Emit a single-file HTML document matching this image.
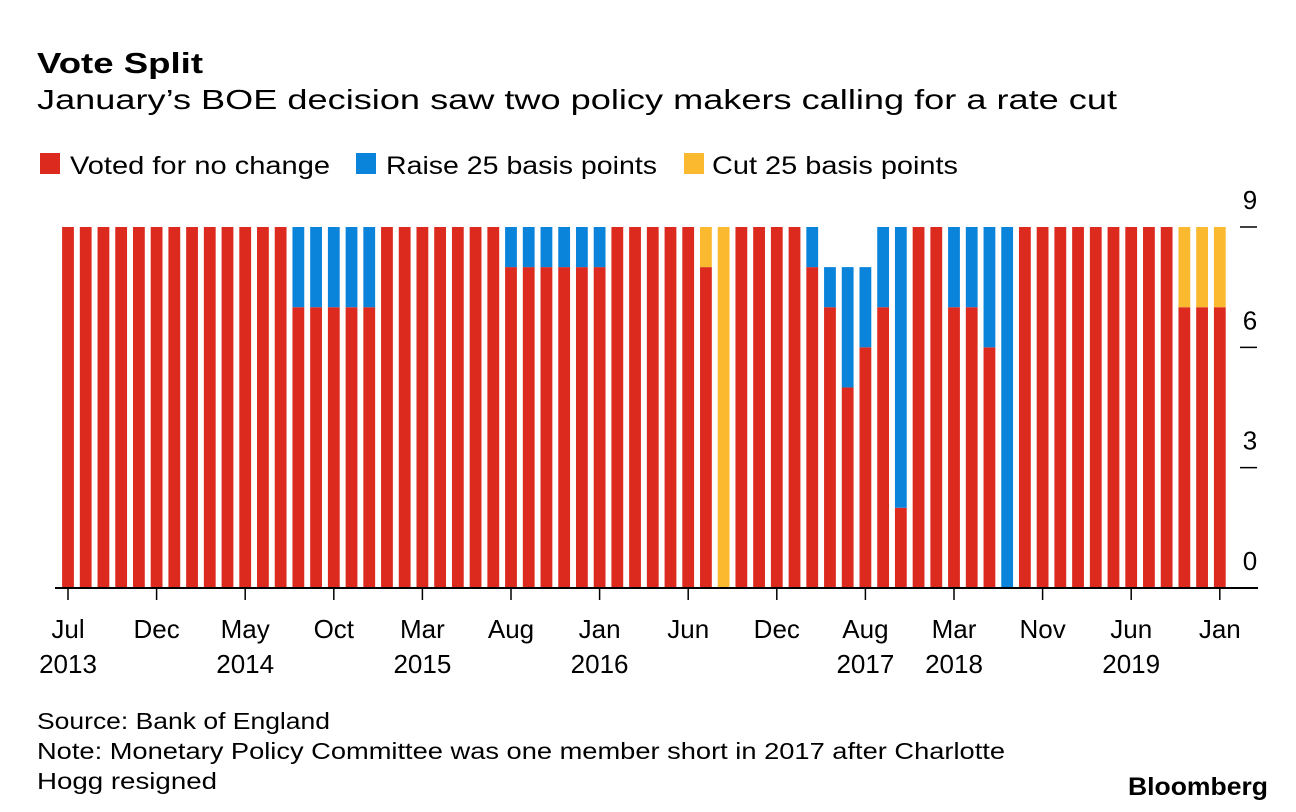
<!DOCTYPE html>
<html><head><meta charset="utf-8"><style>
html,body{margin:0;padding:0;background:#fff;}
svg{display:block;font-family:"Liberation Sans",Arial,sans-serif;}
</style></head><body>
<svg id="chart" width="1296" height="812" viewBox="0 0 1296 812">
<text x="37" y="73" font-size="29" font-weight="bold" fill="#000" textLength="166" lengthAdjust="spacingAndGlyphs">Vote Split</text>
<text x="37" y="109" font-size="28" fill="#000" textLength="1080" lengthAdjust="spacingAndGlyphs">January’s BOE decision saw two policy makers calling for a rate cut</text>
<g>
<rect x="40" y="153" width="20" height="21" fill="#dc2a1f"/>
<text x="70" y="174" font-size="25" textLength="260" lengthAdjust="spacingAndGlyphs">Voted for no change</text>
<rect x="356" y="153" width="20" height="21" fill="#0a84db"/>
<text x="386" y="174" font-size="25" textLength="271" lengthAdjust="spacingAndGlyphs">Raise 25 basis points</text>
<rect x="684" y="153" width="20" height="21" fill="#fbb92f"/>
<text x="712" y="174" font-size="25" textLength="246" lengthAdjust="spacingAndGlyphs">Cut 25 basis points</text>
</g>
<g id="bars"></g>
<g id="axes"></g>
<text x="37" y="729" font-size="23" textLength="293" lengthAdjust="spacingAndGlyphs">Source: Bank of England</text>
<text x="37" y="759" font-size="23" textLength="968" lengthAdjust="spacingAndGlyphs">Note: Monetary Policy Committee was one member short in 2017 after Charlotte</text>
<text x="37" y="789" font-size="23" textLength="180" lengthAdjust="spacingAndGlyphs">Hogg resigned</text>
<text x="1128" y="795" font-size="25" font-weight="bold" textLength="140" lengthAdjust="spacingAndGlyphs">Bloomberg</text>
</svg>
<script>
const noChange = [9,9,9,9,9,9,9,9,9,9,9,9,9,7,7,7,7,7,9,9,9,9,9,9,9,8,8,8,8,8,8,9,9,9,9,9,8,0,9,9,9,9,8,7,5,6,7,2,9,9,7,7,6,0,9,9,9,9,9,9,9,9,9,7,7,7];
const raise    = [0,0,0,0,0,0,0,0,0,0,0,0,0,2,2,2,2,2,0,0,0,0,0,0,0,1,1,1,1,1,1,0,0,0,0,0,0,0,0,0,0,0,1,1,3,2,2,7,0,0,2,2,3,9,0,0,0,0,0,0,0,0,0,0,0,0];
const cut      = [0,0,0,0,0,0,0,0,0,0,0,0,0,0,0,0,0,0,0,0,0,0,0,0,0,0,0,0,0,0,0,0,0,0,0,0,1,9,0,0,0,0,0,0,0,0,0,0,0,0,0,0,0,0,0,0,0,0,0,0,0,0,0,2,2,2];
const tickIndex = [0,5,10,15,20,25,30,35,40,45,50,55,60,65];
const tickMonth = ["Jul","Dec","May","Oct","Mar","Aug","Jan","Jun","Dec","Aug","Mar","Nov","Jun","Jan"];
const tickYear  = ["2013","","2014","","2015","","2016","","","2017","2018","","2019",""];
const yTicks = [0,3,6,9];

const NS = "http://www.w3.org/2000/svg";
const x0 = 68, step = (1219.8-68)/65, bw = 11.8;
const yBase = 588, yUnit = (588-227)/9;
const xs = i => x0 + step*i;
const ys = v => yBase - v*yUnit;
function mk(tag, attrs, parent){const e=document.createElementNS(NS,tag);for(const k in attrs)e.setAttribute(k,attrs[k]);parent.appendChild(e);return e;}
const bars = document.getElementById('bars');
const series = [[noChange,'#dc2a1f','no-change'],[raise,'#0a84db','raise'],[cut,'#fbb92f','cut']];
noChange.forEach((_,i)=>{
  let acc = 0;
  series.forEach(([arr,col,nm])=>{
    const v = arr[i];
    if(v>0){
      const r = mk('rect',{x:xs(i)-bw/2,y:ys(acc+v),width:bw,height:ys(acc)-ys(acc+v),fill:col},bars);
      
      
    }
    acc += v;
  });
});
const axes = document.getElementById('axes');
const al = mk('line',{x1:55,x2:1258,y1:588,y2:588,stroke:'#000','stroke-width':2},axes);


tickIndex.forEach((ti,k)=>{
  const x = xs(ti);
  const t = mk('line',{x1:x,x2:x,y1:588,y2:600,stroke:'#000','stroke-width':1.5},axes);
  
  
  const m = mk('text',{x:x,y:638,'font-size':26,'text-anchor':'middle',fill:'#000'},axes);
  m.textContent = tickMonth[k];
  
  
  if(tickYear[k]){
    const y = mk('text',{x:x,y:673,'font-size':26,'text-anchor':'middle',fill:'#000'},axes);
    y.textContent = tickYear[k];
    
    
  }
});
yTicks.forEach(v=>{
  const y = ys(v);
  if(v>0){
    const t = mk('line',{x1:1240,x2:1257,y1:y,y2:y,stroke:'#000','stroke-width':1.5},axes);
    
    
  }
  const l = mk('text',{x:1250,y:y-18,'font-size':26,'text-anchor':'middle',fill:'#000'},axes);
  l.textContent = v;
  
  
});
</script>
</body></html>
